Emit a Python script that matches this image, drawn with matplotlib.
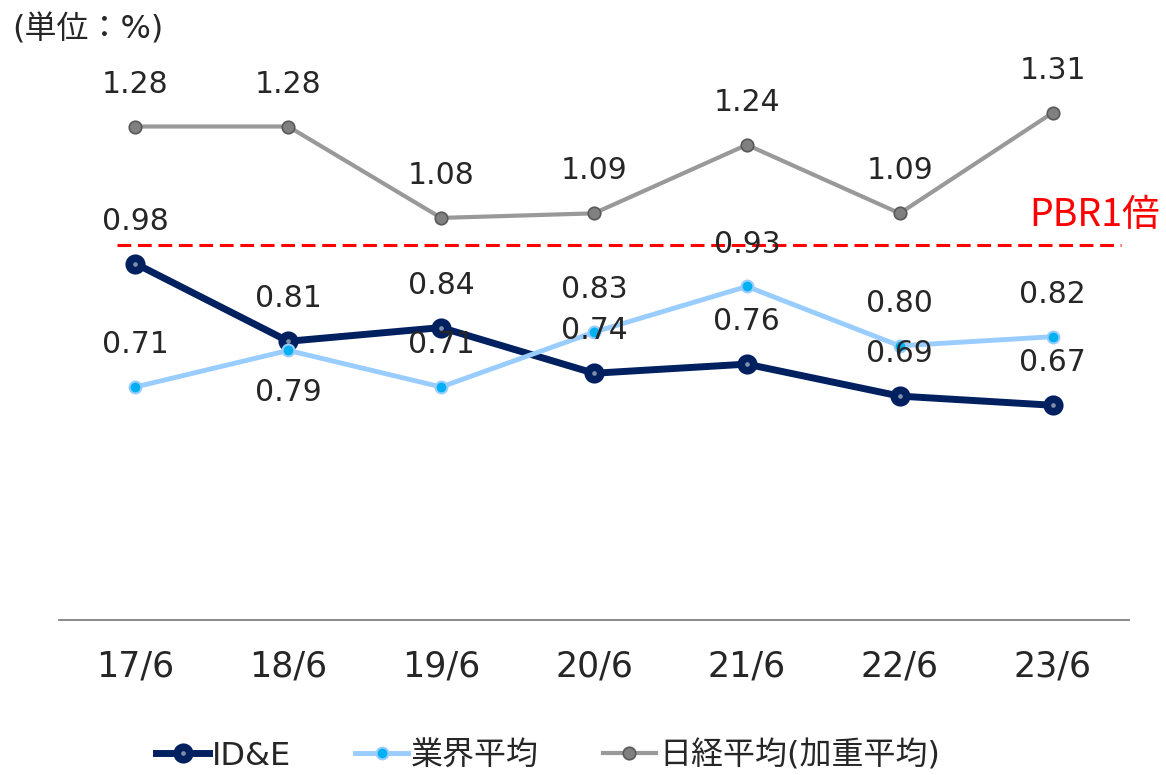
import matplotlib
matplotlib.use("Agg")
import matplotlib.pyplot as plt

plt.rcParams['font.family'] = ['DejaVu Sans', 'Noto Sans CJK JP']

years = ['17/6', '18/6', '19/6', '20/6', '21/6', '22/6', '23/6']
ide = [0.98, 0.81, 0.84, 0.74, 0.76, 0.69, 0.67]
gyokai = [0.71, 0.79, 0.71, 0.83, 0.93, 0.80, 0.82]
nikkei = [1.28, 1.28, 1.08, 1.09, 1.24, 1.09, 1.31]
# ラベル位置 (上 +1 / 下 -1)
gyokai_pos = [1, -1, 1, 1, 1, 1, 1]
pbr_line = 1.02

txt_col = '#262626'
x = list(range(len(years)))

fig = plt.figure(figsize=(11.66, 7.75), dpi=100)
ax = fig.add_axes([59 / 1166, 155 / 775, 1070 / 1166, 594 / 775])

ax.plot(x, nikkei, color='#999999', lw=3, marker='o', ms=9,
        mfc='#808080', mec='#595959', mew=1.2, label='日経平均(加重平均)', zorder=2)
ax.plot(x, ide, color='#002060', lw=5, marker='o', ms=9,
        mfc='#7f8fa6', mec='#002060', mew=5.5, label='ID&E', zorder=3)
ax.plot(x, gyokai, color='#99ccff', lw=3.5, marker='o', ms=8.5,
        mfc='#00b0f0', mec='#99ccff', mew=1.5, label='業界平均', zorder=4)

ax.plot([-0.12, 6.45], [pbr_line, pbr_line], color='#ff0000', lw=2.2,
        ls=(0, (4.5, 2.2)), zorder=1)
ax.text(6.70, 1.086, 'PBR1倍', color='#ff0000', fontsize=27,
        ha='right', va='center', family=['Noto Sans CJK JP'])

lbl = dict(textcoords='offset points', ha='center', va='center',
           fontsize=21.5, color=txt_col, zorder=6)
for i in x:
    ax.annotate(f'{nikkei[i]:.2f}', (i, nikkei[i]), xytext=(0, 30.5), **lbl)
    ax.annotate(f'{ide[i]:.2f}', (i, ide[i]), xytext=(0, 30.5), **lbl)
    ax.annotate(f'{gyokai[i]:.2f}', (i, gyokai[i]),
                xytext=(0, 30.5 * gyokai_pos[i]), **lbl)

ax.set_xlim(-0.5, 6.5)
ax.set_ylim(0.2, 1.5)
ax.set_yticks([])
ax.set_xticks(x)
ax.set_xticklabels(years, fontsize=25, color=txt_col)
ax.tick_params(axis='x', length=0, pad=21)
for s in ['top', 'right', 'left']:
    ax.spines[s].set_visible(False)
ax.spines['bottom'].set_color('#808080')
ax.spines['bottom'].set_linewidth(1.3)
ax.patch.set_alpha(0)

fig.text(12 / 1166, 1 - 30 / 775, '(単位：%)', fontsize=23, color=txt_col,
         ha='left', va='center')

h, l = ax.get_legend_handles_labels()
order = [1, 2, 0]
fig.legend([h[k] for k in order], [l[k] for k in order], loc='center',
           bbox_to_anchor=(548 / 1166, 19 / 775), ncol=3, frameon=False,
           fontsize=23, handlelength=1.65, handletextpad=0.1, columnspacing=2.0,
           labelcolor=txt_col, borderpad=0.1)

fig.savefig('out.png', dpi=100)
